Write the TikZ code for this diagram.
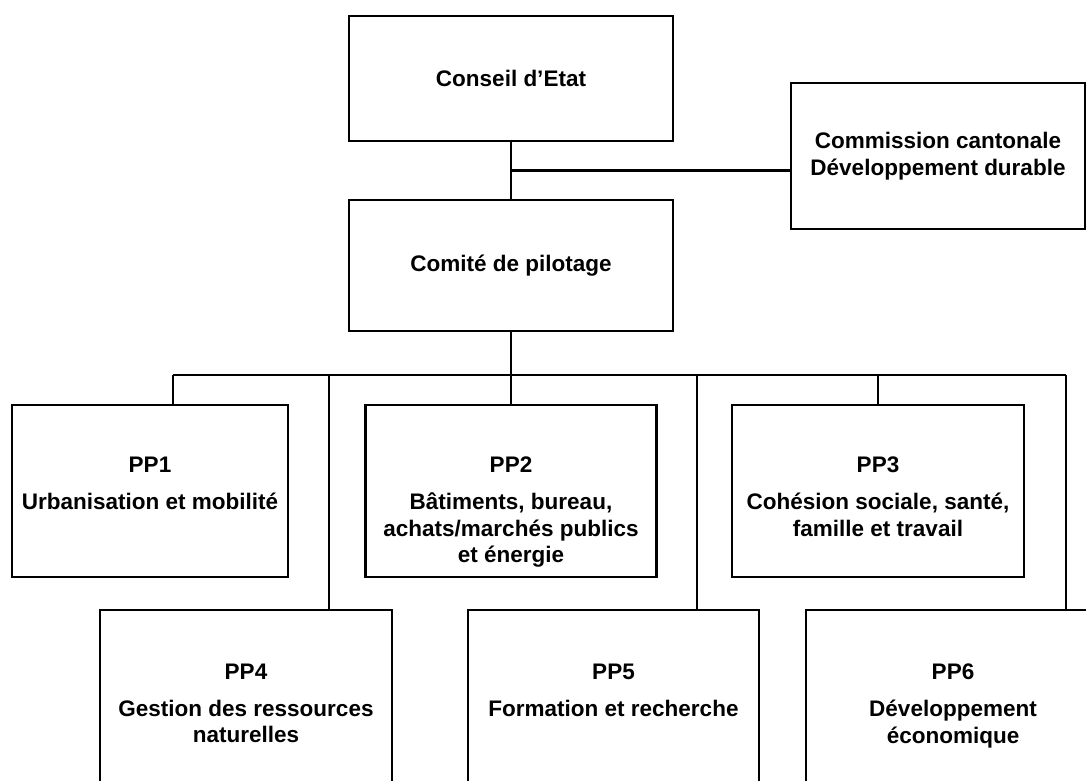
\documentclass[tikz,border=0pt]{standalone}
\usepackage{fontspec}
\setmainfont{Liberation Sans}
\usetikzlibrary{calc,positioning}

\tikzset{
  orgbox/.style={draw,line width=2.4pt,align=center,inner sep=0pt},
  lbl/.style={align=center,inner sep=0pt,anchor=north,
    font=\fontsize{22.5}{26.5}\selectfont\bfseries},
}

\begin{document}
\begin{tikzpicture}[x=1pt,y=-1pt,line width=2.4pt,
    font=\fontsize{22.5}{26.5}\selectfont\bfseries]

    \clip (0,0) rectangle (1086,781);

    % upper levels
    \node (conseil) at (511,78.5) [orgbox,minimum width=324,minimum height=125] {Conseil d'Etat};
    \node (comite) at (511,265.5) [orgbox,minimum width=324,minimum height=131] {Comité de pilotage};
    \node (commission) at (938,156) [orgbox,minimum width=294,minimum height=146]
      {Commission cantonale\\Développement durable};

    % programmes
    \node (pp1) at (150,491) [orgbox,minimum width=276,minimum height=172] {};
    \node (pp2) at (511,491) [orgbox,minimum width=291,minimum height=172] {};
    \node (pp3) at (878,491) [orgbox,minimum width=292,minimum height=172] {};
    \node (pp4) at (246,710) [orgbox,minimum width=292,minimum height=200] {};
    \node (pp5) at (613.5,710) [orgbox,minimum width=291,minimum height=200] {};
    \node (pp6) at (953,710) [orgbox,minimum width=294,minimum height=200] {};

      \node[lbl] (pp1l) at ([yshift=-52]pp1.north) {PP1\\[10.5pt]Urbanisation et mobilité};
      \node[lbl] (pp2l) at ([yshift=-52]pp2.north) {PP2\\[10.5pt]Bâtiments, bureau,\\achats/marchés publics\\et énergie};
      \node[lbl] (pp3l) at ([yshift=-52]pp3.north) {PP3\\[10.5pt]Cohésion sociale, santé,\\famille et travail};
      \node[lbl] (pp4l) at ([yshift=-54]pp4.north) {PP4\\[10.5pt]Gestion des ressources\\naturelles};
      \node[lbl] (pp5l) at ([yshift=-54]pp5.north) {PP5\\[10.5pt]Formation et recherche};
      \node[lbl] (pp6l) at ([yshift=-54]pp6.north) {PP6\\[10.5pt]Développement\\économique};

    % connectors
    \coordinate (join) at ($(conseil.south)!0.5!(comite.north)$);
    \coordinate (busl) at (173,375);
    \coordinate (busr) at (1066,375);
    \coordinate (tap4) at (329,375);
    \coordinate (tap5) at (697,375);

      \draw (conseil) -- (comite);
      \draw (join) -- (join -| commission.west);
      \draw (comite) -- (comite.south |- busl);
      \draw (busl) -- (busr);
      \draw (busl) -- (busl |- pp1.north);
      \draw (pp2.north |- busl) -- (pp2.north);
      \draw (pp3.north |- busl) -- (pp3.north);
      \draw (tap4) -- (tap4 |- pp4.north);
      \draw (tap5) -- (tap5 |- pp5.north);
      \draw (busr) -- (busr |- pp6.north);

  \end{tikzpicture}
\end{document}
